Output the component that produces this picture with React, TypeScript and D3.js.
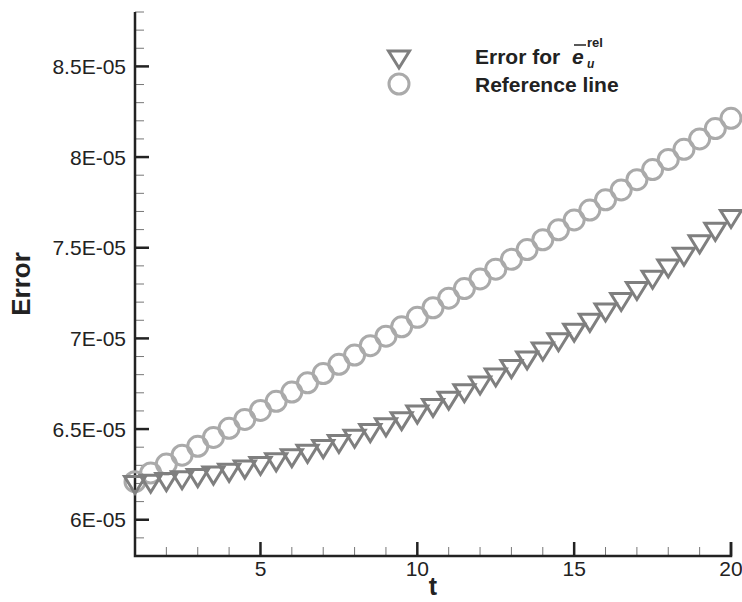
import { useEffect, useRef } from "react";
import * as d3 from "d3";

// time steps (every half unit from 1 to 20)
const times = [
  1, 1.5, 2, 2.5, 3, 3.5, 4, 4.5, 5, 5.5, 6, 6.5, 7, 7.5, 8, 8.5, 9, 9.5, 10,
  10.5, 11, 11.5, 12, 12.5, 13, 13.5, 14, 14.5, 15, 15.5, 16, 16.5, 17, 17.5,
  18, 18.5, 19, 19.5, 20,
];

// Error for e_u^rel (triangles)
const errorValues = [
  6.2e-5, 6.207e-5, 6.216e-5, 6.226e-5, 6.238e-5, 6.252e-5, 6.267e-5, 6.285e-5,
  6.305e-5, 6.325e-5, 6.348e-5, 6.372e-5, 6.398e-5, 6.426e-5, 6.455e-5,
  6.486e-5, 6.518e-5, 6.552e-5, 6.588e-5, 6.625e-5, 6.665e-5, 6.706e-5,
  6.749e-5, 6.793e-5, 6.839e-5, 6.887e-5, 6.936e-5, 6.987e-5, 7.04e-5,
  7.094e-5, 7.151e-5, 7.209e-5, 7.27e-5, 7.332e-5, 7.394e-5, 7.459e-5,
  7.527e-5, 7.596e-5, 7.667e-5,
];

// Reference line (circles)
const referenceValues = [
  6.21e-5, 6.258e-5, 6.307e-5, 6.356e-5, 6.405e-5, 6.454e-5, 6.504e-5,
  6.553e-5, 6.603e-5, 6.653e-5, 6.704e-5, 6.755e-5, 6.806e-5, 6.857e-5,
  6.908e-5, 6.96e-5, 7.012e-5, 7.064e-5, 7.116e-5, 7.169e-5, 7.222e-5,
  7.275e-5, 7.328e-5, 7.382e-5, 7.436e-5, 7.49e-5, 7.544e-5, 7.599e-5,
  7.653e-5, 7.708e-5, 7.764e-5, 7.819e-5, 7.875e-5, 7.931e-5, 7.987e-5,
  8.043e-5, 8.1e-5, 8.157e-5, 8.214e-5,
];

const xTicks = [5, 10, 15, 20];
const xMinorTicks = d3.range(2, 20, 1);
const yTicks = [6e-5, 6.5e-5, 7e-5, 7.5e-5, 8e-5, 8.5e-5];
const yTickLabels = ["6E-05", "6.5E-05", "7E-05", "7.5E-05", "8E-05", "8.5E-05"];
const yMinorTicks = [
  5.9e-5, 6.1e-5, 6.2e-5, 6.3e-5, 6.4e-5, 6.6e-5, 6.7e-5, 6.8e-5, 6.9e-5,
  7.1e-5, 7.2e-5, 7.3e-5, 7.4e-5, 7.6e-5, 7.7e-5, 7.8e-5, 7.9e-5, 8.1e-5,
  8.2e-5, 8.3e-5, 8.4e-5, 8.6e-5, 8.7e-5, 8.8e-5,
];

const App = () => {
  const ref = useRef<SVGSVGElement>(null);

  const width = 742;
  const height = 602;
  const left = 135;
  const right = 731;
  const top = 12;
  const bottom = 556;

  useEffect(() => {
    const svg = d3.select(ref.current);
    svg.selectAll("*").remove();

    const x = d3.scaleLinear().domain([1, 20]).range([left, right]);
    const y = d3.scaleLinear().domain([5.8e-5, 8.8e-5]).range([bottom, top]);

    const axisColor = "#222";
    const font = "Arial, 'Liberation Sans', sans-serif";

    // minor ticks (inward)
    svg
      .append("g")
      .selectAll("line")
      .data(yMinorTicks)
      .join("line")
      .attr("x1", left)
      .attr("x2", left + 9)
      .attr("y1", (d) => y(d))
      .attr("y2", (d) => y(d))
      .attr("stroke", "#777")
      .attr("stroke-width", 1);

    svg
      .append("g")
      .selectAll("line")
      .data(xMinorTicks.filter((d) => !xTicks.includes(d)))
      .join("line")
      .attr("x1", (d) => x(d))
      .attr("x2", (d) => x(d))
      .attr("y1", bottom)
      .attr("y2", bottom - 9)
      .attr("stroke", "#777")
      .attr("stroke-width", 1);

    // major ticks
    svg
      .append("g")
      .selectAll("line")
      .data(yTicks)
      .join("line")
      .attr("x1", left)
      .attr("x2", left + 14)
      .attr("y1", (d) => y(d))
      .attr("y2", (d) => y(d))
      .attr("stroke", axisColor)
      .attr("stroke-width", 2.5);

    svg
      .append("g")
      .selectAll("line")
      .data(xTicks)
      .join("line")
      .attr("x1", (d) => x(d))
      .attr("x2", (d) => x(d))
      .attr("y1", bottom)
      .attr("y2", bottom - 14)
      .attr("stroke", axisColor)
      .attr("stroke-width", 2.5);

    // axis lines
    svg
      .append("path")
      .attr("d", `M${left},${top}V${bottom}H${right}V${bottom - 14}`)
      .attr("fill", "none")
      .attr("stroke", axisColor)
      .attr("stroke-width", 2.5);

    // tick labels
    svg
      .append("g")
      .attr("font-family", font)
      .attr("font-size", 21)
      .attr("fill", axisColor)
      .attr("text-anchor", "end")
      .selectAll("text")
      .data(yTicks)
      .join("text")
      .attr("x", left - 9)
      .attr("y", (d) => y(d))
      .attr("dy", "0.36em")
      .text((d, i) => yTickLabels[i]);

    svg
      .append("g")
      .attr("font-family", font)
      .attr("font-size", 21)
      .attr("fill", axisColor)
      .attr("text-anchor", "middle")
      .selectAll("text")
      .data(xTicks)
      .join("text")
      .attr("x", (d) => x(d))
      .attr("y", bottom + 20)
      .text((d) => d);

    // axis titles
    svg
      .append("text")
      .attr("transform", `translate(30, ${(top + bottom) / 2}) rotate(-90)`)
      .attr("text-anchor", "middle")
      .attr("font-family", font)
      .attr("font-weight", "bold")
      .attr("font-size", 26)
      .attr("fill", axisColor)
      .text("Error");

    svg
      .append("text")
      .attr("x", (left + right) / 2)
      .attr("y", 595)
      .attr("text-anchor", "middle")
      .attr("font-family", font)
      .attr("font-weight", "bold")
      .attr("font-size", 25)
      .attr("fill", axisColor)
      .text("t");

    // series
    const circleColor = "#aaaaaa";
    const triColor = "#7f7f7f";
    const triangle = (cx, cy) =>
      `M${cx - 10.5},${cy - 7}L${cx + 10.5},${cy - 7}L${cx},${cy + 10}Z`;

    svg
      .append("g")
      .selectAll("circle")
      .data(times)
      .join("circle")
      .attr("cx", (d) => x(d))
      .attr("cy", (d, i) => y(referenceValues[i]))
      .attr("r", 10)
      .attr("fill", "none")
      .attr("stroke", circleColor)
      .attr("stroke-width", 3);

    svg
      .append("g")
      .selectAll("path")
      .data(times)
      .join("path")
      .attr("d", (d, i) => triangle(x(d), y(errorValues[i])))
      .attr("fill", "none")
      .attr("stroke", triColor)
      .attr("stroke-width", 3)
      .attr("stroke-linejoin", "miter");

    // legend
    const lg = svg.append("g");
    lg.append("path")
      .attr("d", triangle(399, 58))
      .attr("fill", "none")
      .attr("stroke", triColor)
      .attr("stroke-width", 3);
    lg.append("circle")
      .attr("cx", 399)
      .attr("cy", 84)
      .attr("r", 10)
      .attr("fill", "none")
      .attr("stroke", circleColor)
      .attr("stroke-width", 3);

    lg.append("text")
      .attr("x", 475)
      .attr("y", 64)
      .attr("font-family", font)
      .attr("font-weight", "bold")
      .attr("font-size", 21)
      .attr("fill", axisColor)
      .text("Error for");
    lg.append("text")
      .attr("x", 572)
      .attr("y", 64)
      .attr("font-family", font)
      .attr("font-weight", "bold")
      .attr("font-style", "italic")
      .attr("font-size", 21)
      .attr("fill", axisColor)
      .text("e");
    lg.append("line")
      .attr("x1", 574)
      .attr("x2", 586)
      .attr("y1", 45)
      .attr("y2", 45)
      .attr("stroke", axisColor)
      .attr("stroke-width", 1.5);
    lg.append("text")
      .attr("x", 587)
      .attr("y", 47)
      .attr("font-family", font)
      .attr("font-weight", "bold")
      .attr("font-size", 13)
      .attr("fill", axisColor)
      .text("rel");
    lg.append("text")
      .attr("x", 587)
      .attr("y", 68)
      .attr("font-family", font)
      .attr("font-weight", "bold")
      .attr("font-style", "italic")
      .attr("font-size", 12)
      .attr("fill", axisColor)
      .text("u");
    lg.append("text")
      .attr("x", 475)
      .attr("y", 92)
      .attr("font-family", font)
      .attr("font-weight", "bold")
      .attr("font-size", 21)
      .attr("fill", axisColor)
      .text("Reference line");
  }, []);

  return (
    <svg
      ref={ref}
      width={width}
      height={height}
      style={{ position: "absolute", left: 0, top: 0, background: "#fff" }}
    />
  );
};

export default App;
